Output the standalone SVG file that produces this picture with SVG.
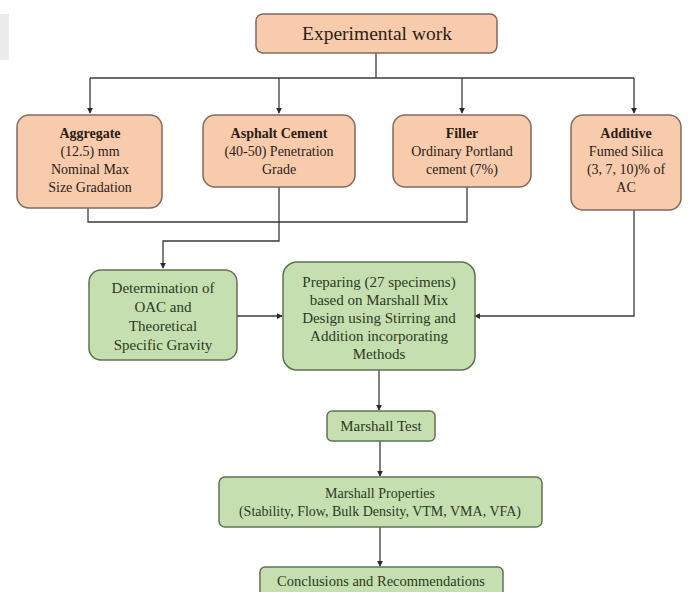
<svg xmlns="http://www.w3.org/2000/svg" width="692" height="592" viewBox="0 0 692 592" font-family="Liberation Serif, Times New Roman, serif">
<style>
.o{fill:#f8cbad;stroke:#7f6a5e;stroke-width:1.5}
.g{fill:#c6dfb1;stroke:#5f7352;stroke-width:1.5}
text{font-family:"Liberation Serif",serif}
.t{text-anchor:middle;fill:#2a1d16}
.tg{text-anchor:middle;fill:#2b3a22}
.b{font-weight:bold}
.c{fill:none;stroke:#3a3a3a;stroke-width:1.3}
</style>
<defs>
<marker id="ah" viewBox="0 0 8 8" refX="7" refY="4" markerWidth="6" markerHeight="6" orient="auto" markerUnits="userSpaceOnUse">
<path d="M0,0 L8,4 L0,8 z" fill="#2a2a2a"/>
</marker>
</defs>
<rect x="0" y="0" width="692" height="592" fill="#ffffff"/>
<rect x="0" y="14" width="9" height="46" fill="#ececec"/>
<g id="connectors">
<path class="c" d="M376,53 V78"/>
<path class="c" d="M90,78 H634"/>
<path class="c" d="M90,78 V113" marker-end="url(#ah)"/>
<path class="c" d="M279,78 V113" marker-end="url(#ah)"/>
<path class="c" d="M462,78 V113" marker-end="url(#ah)"/>
<path class="c" d="M634,78 V113" marker-end="url(#ah)"/>
<path class="c" d="M88,208 V222 H467 V187"/>
<path class="c" d="M279,187 V241 H163 V268" marker-end="url(#ah)"/>
<path class="c" d="M634,210 V316 H475" marker-end="url(#ah)"/>
<path class="c" d="M237,316 H282" marker-end="url(#ah)"/>
<path class="c" d="M379,370 V410" marker-end="url(#ah)"/>
<path class="c" d="M380,441 V476" marker-end="url(#ah)"/>
<path class="c" d="M380,527 V566" marker-end="url(#ah)"/>
</g>
<g id="experimental" font-size="19.5">
<rect class="o" x="256" y="14" width="241" height="39" rx="7"/>
<text class="t" x="377" y="40">Experimental work</text>
</g>
<g id="aggregate" font-size="14">
<rect class="o" x="17" y="115" width="145" height="93" rx="12"/>
<text class="t b" x="90" y="138">Aggregate</text>
<text class="t" x="90" y="156">(12.5) mm</text>
<text class="t" x="90" y="174">Nominal Max</text>
<text class="t" x="90" y="192">Size Gradation</text>
</g>
<g id="asphalt" font-size="14">
<rect class="o" x="203" y="115" width="152" height="72" rx="12"/>
<text class="t b" x="279" y="138">Asphalt Cement</text>
<text class="t" x="279" y="156">(40-50) Penetration</text>
<text class="t" x="279" y="174">Grade</text>
</g>
<g id="filler" font-size="14">
<rect class="o" x="393" y="115" width="138" height="72" rx="12"/>
<text class="t b" x="462" y="138">Filler</text>
<text class="t" x="462" y="156">Ordinary Portland</text>
<text class="t" x="462" y="174">cement (7%)</text>
</g>
<g id="additive" font-size="14">
<rect class="o" x="571" y="115" width="110" height="95" rx="12"/>
<text class="t b" x="626" y="138">Additive</text>
<text class="t" x="626" y="156">Fumed Silica</text>
<text class="t" x="626" y="174">(3, 7, 10)% of</text>
<text class="t" x="626" y="192">AC</text>
</g>
<g id="determination" font-size="15">
<rect class="g" x="89" y="270" width="148" height="90" rx="12"/>
<text class="tg" x="163" y="293">Determination of</text>
<text class="tg" x="163" y="312">OAC and</text>
<text class="tg" x="163" y="331">Theoretical</text>
<text class="tg" x="163" y="350">Specific Gravity</text>
</g>
<g id="preparing" font-size="15">
<rect class="g" x="283" y="262" width="192" height="108" rx="14"/>
<text class="tg" x="379" y="287">Preparing (27 specimens)</text>
<text class="tg" x="379" y="305">based on Marshall Mix</text>
<text class="tg" x="379" y="323">Design using Stirring and</text>
<text class="tg" x="379" y="341">Addition incorporating</text>
<text class="tg" x="379" y="359">Methods</text>
</g>
<g id="marshall-test" font-size="15">
<rect class="g" x="327" y="411" width="108" height="30" rx="5"/>
<text class="tg" x="381" y="431">Marshall Test</text>
</g>
<g id="marshall-properties" font-size="14">
<rect class="g" x="219" y="477" width="323" height="50" rx="6"/>
<text class="tg" x="380" y="498">Marshall Properties</text>
<text class="tg" x="380" y="516">(Stability, Flow, Bulk Density, VTM, VMA, VFA)</text>
</g>
<g id="conclusions" font-size="14.5">
<rect class="g" x="260" y="567" width="243" height="30" rx="5"/>
<text class="tg" x="381" y="586">Conclusions and Recommendations</text>
</g>
</svg>
